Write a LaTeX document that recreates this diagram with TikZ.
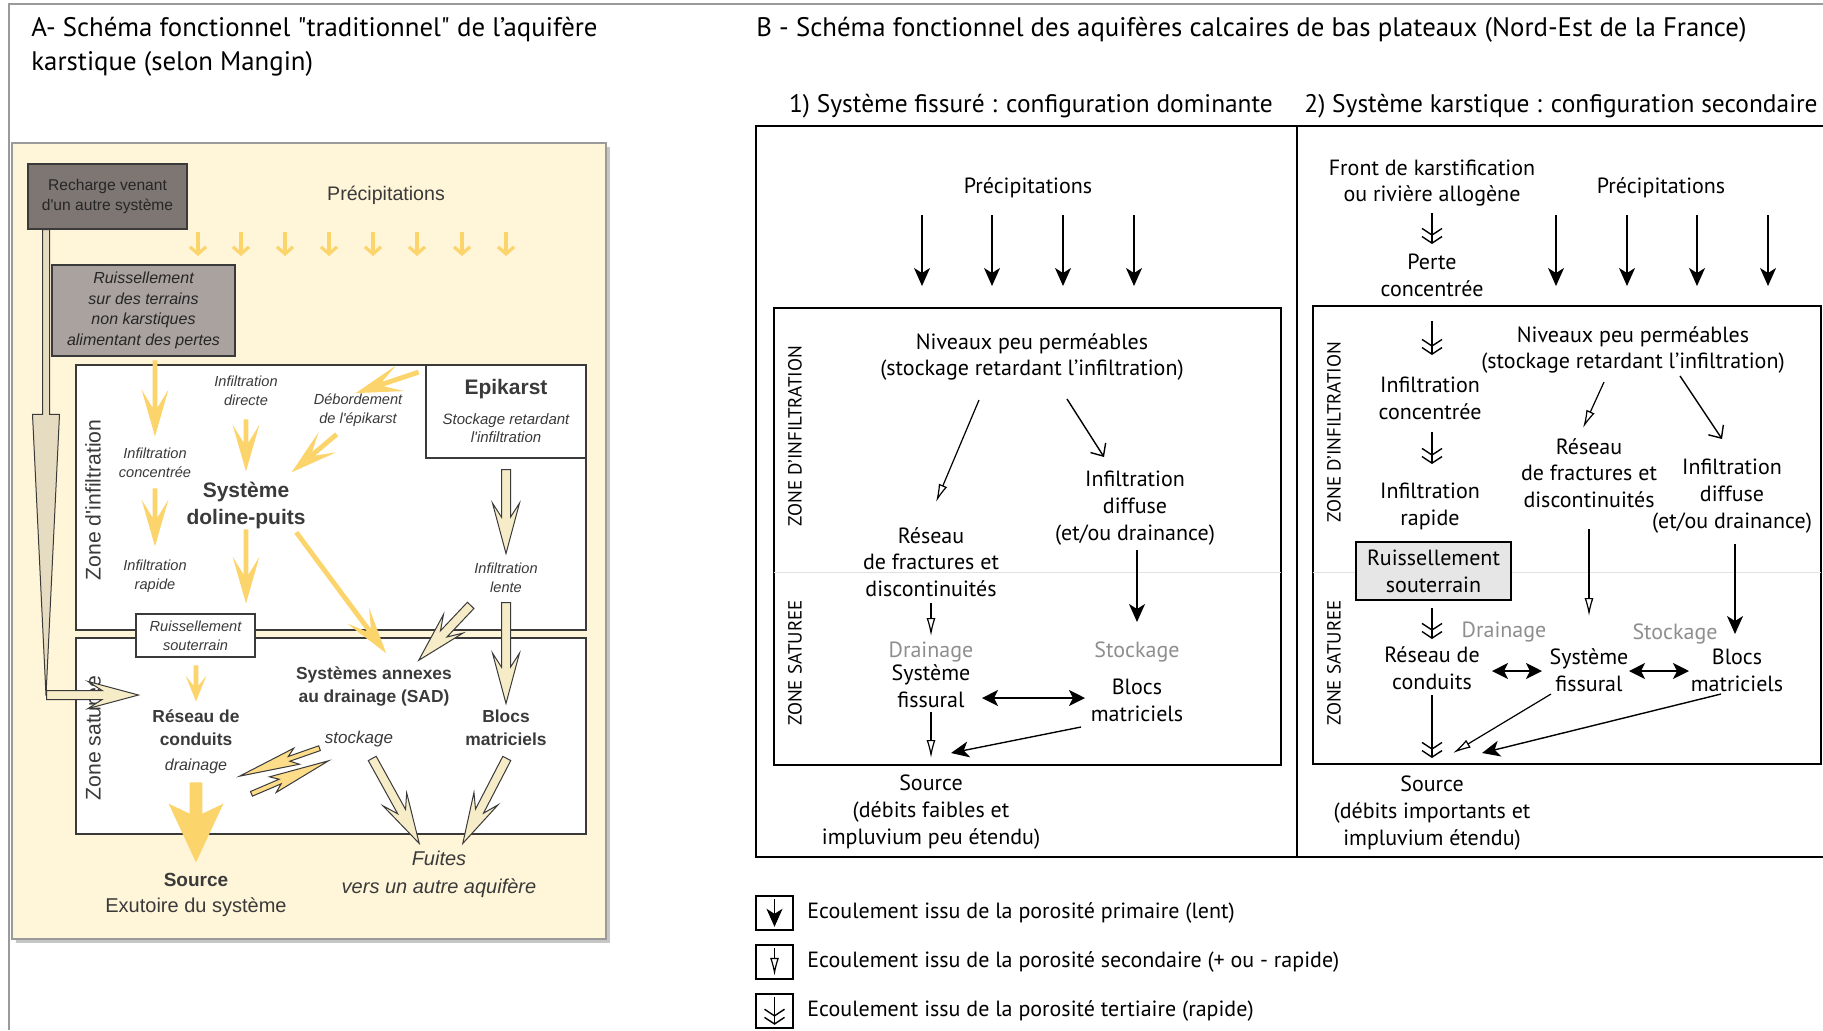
\documentclass[tikz,border=0pt]{standalone}
\usepackage{fontspec}
\setmainfont{PT Sans}
\newfontfamily\titfont{PT Sans}[Ligatures=TeXOff]
\newfontfamily\helv{Liberation Sans}
\usetikzlibrary{arrows.meta,calc,shapes.arrows}

\definecolor{beigeA}{HTML}{FFF5D8}
\definecolor{bordoA}{HTML}{9A9A9A}
\definecolor{gialloA}{HTML}{FCD46C}
\definecolor{crema}{HTML}{F6ECC8}
\definecolor{scuro}{HTML}{3A3A3A}
\definecolor{grigioR}{HTML}{7E7673}
\definecolor{grigioP}{HTML}{A9A29E}
\definecolor{grigioC}{HTML}{E6DCC2}
\definecolor{grigioT}{HTML}{8E8E8E}
\definecolor{grigioS}{HTML}{E6E6E6}
\definecolor{linea}{HTML}{E2E2E2}

% freccia "piena" (nodo single arrow) tra due coordinate: stile, nome, da, a
\newcommand{\freccia}[4]{%
  \path let \p1=(#3), \p2=(#4), \n1={atan2(\y2-\y1,\x2-\x1)}, \n2={veclen(\x2-\x1,\y2-\y1)}
    in node[#1, anchor=tail, minimum height=\n2, rotate=\n1] (#2) at (#3) {};}

\begin{document}
\begin{tikzpicture}[x=0.5pt, y=-0.5pt,
    tT/.style={font=\titfont\fontsize{13.4}{17}\selectfont, align=left, inner sep=1pt},
    tS/.style={font=\fontsize{12.7}{15}\selectfont, inner sep=1pt},
    tB/.style={font=\fontsize{11}{13.4}\selectfont, align=center, inner sep=1pt},
    tZ/.style={font=\fontsize{9.5}{11}\selectfont, inner sep=1pt},
    tA/.style={font=\helv\itshape\fontsize{7.3}{9.3}\selectfont, align=center, inner sep=1pt, text=scuro},
    tAb/.style={font=\helv\bfseries\fontsize{8.7}{11.5}\selectfont, align=center, inner sep=1pt, text=scuro},
    tAB/.style={font=\helv\bfseries\fontsize{10.5}{13.5}\selectfont, align=center, inner sep=1pt, text=scuro},
    prim/.style={-{Stealth[length=9pt,width=8pt,inset=2.5pt]}, line width=0.7pt},
    sec/.style={-{Latex[open,length=9pt,width=4.5pt]}, line width=0.6pt},
    tert/.style={-{Straight Barb[length=3.3pt,width=10pt]Straight Barb[length=3.3pt,width=10pt]}, line width=0.7pt},
    aperta/.style={-{Straight Barb[length=5pt,width=9pt]}, line width=0.7pt},
    doppia/.style={{Stealth[length=8pt,width=8pt,inset=2pt]}-{Stealth[length=8pt,width=8pt,inset=2pt]}, line width=1pt},
    giallo/.style={single arrow, fill=gialloA, inner xsep=0pt, inner ysep=1pt,
      single arrow head extend=5.5pt, single arrow tip angle=32, single arrow head indent=9pt},
    gialloP/.style={giallo, single arrow head extend=4pt, single arrow tip angle=44, single arrow head indent=5pt},
    gialloG/.style={giallo, inner ysep=3pt, single arrow head extend=10.5pt, single arrow tip angle=50, single arrow head indent=5pt},
    cavo/.style={single arrow, draw=scuro, fill=crema, line width=0.5pt, inner xsep=0pt, inner ysep=2pt,
      single arrow head extend=4.5pt, single arrow tip angle=30, single arrow head indent=7pt},
    cavoG/.style={cavo, fill=gialloA!80, inner ysep=1pt, single arrow head extend=3pt, single arrow tip angle=16, single arrow head indent=4pt},
    lunga/.style={cavo, fill=grigioC, inner ysep=1.5pt, single arrow head extend=5pt, single arrow tip angle=5.5, single arrow head indent=0pt},
  ]
  \useasboundingbox (0,0) rectangle (1823,1030);

  % Parametri
  \def\ysu{215}     % inizio frecce precipitazioni
  \def\ygiu{286}    % fine frecce precipitazioni

  % Cornice
  \draw[bordoA, line width=0.8pt] (9,1030) -- (9,4) -- (1823,4);

  % ================= A =================
  \node[tT, anchor=west] (titA) at (29,47) {A- Schéma fonctionnel "traditionnel" de l’aquifère\\karstique (selon Mangin)};

  % Fondo beige
  \fill[gray!45] (16,147) rectangle (610,943);
  \draw[bordoA, fill=beigeA, line width=0.8pt] (12,143) rectangle (606,939);

  % Zone
  \draw[scuro, fill=white, line width=0.8pt] (76,365) rectangle (586,630);
  \draw[scuro, fill=white, line width=0.8pt] (76,638) rectangle (586,834);
  \draw[scuro, fill=white, line width=0.8pt] (426,365) rectangle (586,458);

  % Riquadri grigi
  \node[draw=scuro, fill=grigioR, line width=0.8pt, minimum width=79.5pt, minimum height=32.5pt,
    font=\helv\fontsize{7.8}{9.9}\selectfont, align=center, text=black!85] (recA) at (107.5,196.5)
    {Recharge venant\\d'un autre système};
  \node[draw=scuro, fill=grigioP, line width=0.8pt, minimum width=91.5pt, minimum height=45.5pt,
    font=\helv\itshape\fontsize{8}{10.3}\selectfont, align=center, text=black!85] (ruisA) at (143.5,310.5)
    {Ruissellement\\sur des terrains\\non karstiques\\alimentant des pertes};

  % Testi
  \node[font=\helv\fontsize{9.8}{11}\selectfont, text=scuro] (precA) at (386,195) {Précipitations};
  \node[tAB] (epiT) at (506,389) {Epikarst};
  \node[tA, font=\helv\itshape\fontsize{7.5}{9}\selectfont] (epiS) at (506,428) {Stockage retardant\\l'infiltration};
  \node[font=\helv\fontsize{10.6}{11}\selectfont, text=scuro, rotate=90] (zA1) at (93,500) {Zone d'infiltration};
  \node[font=\helv\fontsize{10.6}{11}\selectfont, text=scuro, rotate=90] (zA2) at (93,738) {Zone saturée};
  \node[tA] (dirA) at (246,390.5) {Infiltration\\directe};
  \node[tA] (debA) at (358,410) {Débordement\\de l'épikarst};
  \node[tA] (concA) at (155,462.5) {Infiltration\\concentrée};
  \node[tAB] (dolA) at (246,505.5) {Système\\doline-puits};
  \node[tA] (rapA) at (155,576.5) {Infiltration\\rapide};
  \node[tA, draw=scuro, fill=white, line width=0.8pt, minimum width=59.5pt, minimum height=21.5pt] (rsA) at (195.5,635.5) {Ruissellement\\souterrain};
  \node[tA] (lenA) at (506,578) {Infiltration\\lente};
  \node[tAb] (sadA) at (374,686.5) {Systèmes annexes\\au drainage (SAD)};
  \node[tAb] (conA) at (196,728) {Réseau de\\conduits};
  \node[tA, font=\helv\itshape\fontsize{8}{9}\selectfont] (drA) at (196,766) {drainage};
  \node[tA, font=\helv\itshape\fontsize{8.5}{9}\selectfont] (stA) at (359,739) {stockage};
  \node[tAb] (blA) at (506,727.5) {Blocs\\matriciels};
  \node[tAb, font=\helv\bfseries\fontsize{9.5}{11}\selectfont] (srcA) at (196,880) {Source};
  \node[font=\helv\fontsize{10}{11}\selectfont, text=scuro] (exA) at (196,907) {Exutoire du système};
  \node[tA, font=\helv\itshape\fontsize{10}{14}\selectfont] (fuA) at (439,874) {Fuites\\vers un autre aquifère};

  % Piccole frecce delle precipitazioni
  \foreach \x in {198,241,285,329,373,417,462,506}
    \draw[gialloA, line width=1.6pt, -{Straight Barb[length=3.5pt,width=8pt]}] (\x,232) -- (\x,256);

  % Punti delle frecce gialle
  \coordinate (ga1) at (155,360); \coordinate (ga2) at (155,436);
  \coordinate (gb1) at (155,488); \coordinate (gb2) at (155,546);
  \coordinate (gc1) at (246,419); \coordinate (gc2) at (246,471);
  \coordinate (gd1) at (419,372); \coordinate (gd2) at (356,393);
  \coordinate (ge1) at (337,434); \coordinate (ge2) at (292,472);
  \coordinate (gf1) at (246,529); \coordinate (gf2) at (246,603);
  \coordinate (gg1) at (296,532); \coordinate (gg2) at (386,653);
  \coordinate (gh1) at (196,665); \coordinate (gh2) at (196,701);
  \coordinate (gi1) at (196,782); \coordinate (gi2) at (196,862);

  \freccia{giallo}{fa}{ga1}{ga2}
  \freccia{giallo}{fb}{gb1}{gb2}
  \freccia{giallo}{fc}{gc1}{gc2}
  \freccia{giallo}{fd}{gd1}{gd2}
  \freccia{giallo}{fe}{ge1}{ge2}
  \freccia{giallo}{ff}{gf1}{gf2}
  \freccia{giallo}{fg}{gg1}{gg2}
  \freccia{gialloP}{fh}{gh1}{gh2}
  \freccia{gialloG}{fi}{gi1}{gi2}

  % Frecce contornate
  \coordinate (ha1) at (506,469); \coordinate (ha2) at (506,553);
  \coordinate (hb1) at (506,602); \coordinate (hb2) at (506,703);
  \coordinate (hc1) at (471,605); \coordinate (hc2) at (419,660);
  \coordinate (hd1) at (372,758); \coordinate (hd2) at (419,843);
  \coordinate (he1) at (507,758); \coordinate (he2) at (463,843);
  \coordinate (hf1) at (320,748); \coordinate (hf2) at (240,776);
  \coordinate (hg1) at (251,794); \coordinate (hg2) at (328,761);
  \coordinate (la1) at (46,229);  \coordinate (la2) at (46,695);
  \coordinate (lb1) at (46,695);  \coordinate (lb2) at (138,695);

  \freccia{cavo}{ca}{ha1}{ha2}
  \freccia{cavo}{cb}{hb1}{hb2}
  \freccia{cavo}{cc}{hc1}{hc2}
  \freccia{cavo}{cd}{hd1}{hd2}
  \freccia{cavo}{ce}{he1}{he2}
  \freccia{cavoG}{cf}{hf1}{hf2}
  \freccia{cavoG}{cg}{hg1}{hg2}
  \freccia{lunga}{cl}{la1}{la2}
  \freccia{cavo}{cm}{lb1}{lb2}

  % ================= B =================
  \node[tT, anchor=west] (titB) at (754,30) {B - Schéma fonctionnel des aquifères calcaires de bas plateaux (Nord-Est de la France)};
  \node[tS] (sub1) at (1031,106) {1) Système fissuré : configuration dominante};
  \node[tS] (sub2) at (1561,106) {2) Système karstique : configuration secondaire};

  % Riquadri
  \draw[line width=0.9pt] (1823,126) -- (756,126) -- (756,857) -- (1823,857);
  \draw[line width=0.9pt] (1297,126) -- (1297,857);
  \draw[line width=0.9pt] (774,308) rectangle (1281,765);
  \draw[line width=0.9pt] (1313,306) rectangle (1821,764);
  \draw[linea] (774,572) -- (1281,572);
  \draw[linea] (1313,572) -- (1821,572);

  % 1) Sistema fessurato
  \node[tZ, rotate=90] (zi1) at (795,436) {ZONE D’INFILTRATION};
  \node[tZ, rotate=90] (zs1) at (795,663) {ZONE SATUREE};
  \node[tB] (prec1) at (1028,188) {Précipitations};
  \node[tB] (niv1) at (1032,357) {Niveaux peu perméables\\(stockage retardant l’infiltration)};
  \node[tB] (diff1) at (1135,508) {Infiltration\\diffuse\\(et/ou drainance)};
  \node[tB] (ret1) at (931,562) {Réseau\\de fractures et\\discontinuités};
  \node[tB, text=grigioT] (dren1) at (931,652) {Drainage};
  \node[tB] (fiss1) at (931,686) {Système\\fissural};
  \node[tB, text=grigioT] (stoc1) at (1137,652) {Stockage};
  \node[tB] (bloc1) at (1137,700) {Blocs\\matriciels};
  \node[tB] (src1) at (931,812) {Source\\(débits faibles et\\impluvium peu étendu)};

  \foreach \x in {922,992,1063,1134}
    \draw[prim] (\x,\ysu) -- (\x,\ygiu);

  \coordinate (s1a) at (979,400);  \coordinate (s1b) at (936,502);
  \coordinate (v1a) at (1067,399); \coordinate (v1b) at (1104,457);
  \coordinate (p1a) at (1137,550); \coordinate (p1b) at (1137,622);
  \coordinate (s2a) at (931,603);  \coordinate (s2b) at (931,636);
  \coordinate (d1a) at (982,698);  \coordinate (d1b) at (1085,698);
  \coordinate (s3a) at (931,712);  \coordinate (s3b) at (931,758);
  \coordinate (p2a) at (1081,727); \coordinate (p2b) at (951,753);

  \draw[sec] (s1a) -- (s1b);
  \draw[aperta] (v1a) -- (v1b);
  \draw[prim] (p1a) -- (p1b);
  \draw[sec] (s2a) -- (s2b);
  \draw[doppia] (d1a) -- (d1b);
  \draw[sec] (s3a) -- (s3b);
  \draw[prim] (p2a) -- (p2b);

  % 2) Sistema carsico
  \node[tZ, rotate=90] (zi2) at (1334,432) {ZONE D’INFILTRATION};
  \node[tZ, rotate=90] (zs2) at (1334,663) {ZONE SATUREE};
  \node[tB] (front) at (1432,183) {Front de karstification\\ou rivière allogène};
  \node[tB] (prec2) at (1661,188) {Précipitations};
  \node[tB] (perte) at (1432,275) {Perte\\concentrée};
  \node[tB] (conc2) at (1430,398) {Infiltration\\concentrée};
  \node[tB] (rap2) at (1430,506) {Infiltration\\rapide};
  \node[tB, draw, fill=grigioS, line width=0.8pt, minimum width=77.5pt, minimum height=29pt] (ruis2) at (1433.5,571) {Ruissellement\\souterrain};
  \node[tB] (niv2) at (1633,350) {Niveaux peu perméables\\(stockage retardant l’infiltration)};
  \node[tB] (ret2) at (1589,473) {Réseau\\de fractures et\\discontinuités};
  \node[tB] (diff2) at (1732,496) {Infiltration\\diffuse\\(et/ou drainance)};
  \node[tB, text=grigioT] (dren2) at (1504,632) {Drainage};
  \node[tB, text=grigioT] (stoc2) at (1675,634) {Stockage};
  \node[tB] (cond2) at (1432,668) {Réseau de\\conduits};
  \node[tB] (fiss2) at (1589,670) {Système\\fissural};
  \node[tB] (bloc2) at (1737,670) {Blocs\\matriciels};
  \node[tB] (src2) at (1432,813) {Source\\(débits importants et\\impluvium étendu)};

  \foreach \x in {1556,1627,1697,1768}
    \draw[prim] (\x,\ysu) -- (\x,\ygiu);

  \coordinate (t1a) at (1432,213); \coordinate (t1b) at (1432,244);
  \coordinate (t2a) at (1432,321); \coordinate (t2b) at (1432,355);
  \coordinate (t3a) at (1432,432); \coordinate (t3b) at (1432,464);
  \coordinate (t4a) at (1432,608); \coordinate (t4b) at (1432,639);
  \coordinate (t5a) at (1432,695); \coordinate (t5b) at (1432,758);
  \coordinate (s4a) at (1604,382); \coordinate (s4b) at (1583,428);
  \coordinate (v2a) at (1680,376); \coordinate (v2b) at (1722,439);
  \coordinate (s5a) at (1589,529); \coordinate (s5b) at (1589,616);
  \coordinate (p3a) at (1735,544); \coordinate (p3b) at (1735,634);
  \coordinate (d2a) at (1492,671); \coordinate (d2b) at (1542,671);
  \coordinate (d3a) at (1629,671); \coordinate (d3b) at (1689,671);
  \coordinate (s6a) at (1551,694); \coordinate (s6b) at (1453,753);
  \coordinate (p4a) at (1721,694); \coordinate (p4b) at (1482,753);

  \draw[tert] (t1a) -- (t1b);
  \draw[tert] (t2a) -- (t2b);
  \draw[tert] (t3a) -- (t3b);
  \draw[tert] (t4a) -- (t4b);
  \draw[tert] (t5a) -- (t5b);
  \draw[sec] (s4a) -- (s4b);
  \draw[aperta] (v2a) -- (v2b);
  \draw[sec] (s5a) -- (s5b);
  \draw[prim] (p3a) -- (p3b);
  \draw[doppia] (d2a) -- (d2b);
  \draw[doppia] (d3a) -- (d3b);
  \draw[sec] (s6a) -- (s6b);
  \draw[prim] (p4a) -- (p4b);

  % Legenda
  \foreach \n/\y/\s/\t in {1/913/prim/primaire (lent), 2/962/sec/secondaire (+ ou - rapide), 3/1011/tert/tertiaire (rapide)} {
    \node[draw, line width=0.8pt, minimum width=18.5pt, minimum height=17pt] (leg\n) at (774.5,\y) {};
    \draw[\s, shorten <=2pt, shorten >=2pt] (leg\n.north) -- (leg\n.south);
    \node[tB, anchor=west] (tleg\n) at (805,\y) {Ecoulement issu de la porosité \t};
  }
\end{tikzpicture}
\end{document}
